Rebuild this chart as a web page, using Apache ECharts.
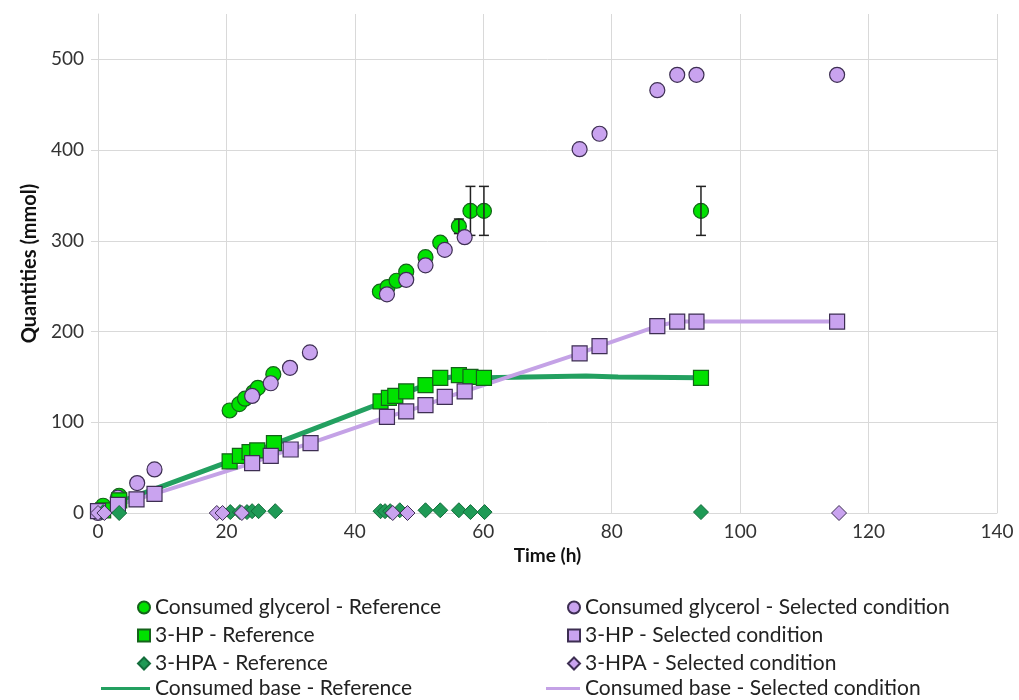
<!DOCTYPE html>
<html>
<head>
<meta charset="utf-8">
<script src="https://cdn.jsdelivr.net/npm/echarts@6/dist/echarts.min.js"></script>
<style>
html,body{margin:0;padding:0;background:#fff;}
#chart{width:1019px;height:700px;}
</style>
</head>
<body>
<div id="chart"></div>
<script>
// ---- Data (time h, quantity mmol) ----
var xTicks = [0, 20, 40, 60, 80, 100, 120, 140];
var yTicks = [0, 100, 200, 300, 400, 500];

var glycerolRef = [[0.8, 8], [3.3, 19], [20.5, 113], [22.0, 120], [22.9, 126], [24.2, 133], [24.9, 138], [27.3, 153],
  [43.9, 244], [45.1, 249], [46.5, 256], [48.0, 266], [51.0, 282], [53.3, 298], [56.2, 316], [58.0, 333], [60.1, 333], [93.9, 333]];
var glycerolRefErr = [[56.2, 316, 8], [58.0, 333, 27], [60.1, 333, 27], [93.9, 333, 27]];
var glycerolSel = [[0, 0], [3.1, 17], [6.1, 33], [8.8, 48], [24.0, 129], [26.9, 143], [29.9, 160], [33.0, 177],
  [45.0, 241], [48.0, 257], [51.0, 273], [54.0, 290], [57.1, 304], [75.0, 401], [78.1, 418], [87.1, 466], [90.2, 483], [93.2, 483], [115.1, 483]];
var hpRef = [[0.8, 3], [3.3, 14], [20.5, 57], [22.1, 63], [23.6, 67], [24.8, 69], [27.4, 77],
  [44.0, 123], [45.3, 127], [46.3, 129], [48.0, 134], [51.0, 141], [53.3, 149], [56.2, 152], [58.0, 150], [60.1, 149], [93.9, 149]];
var hpSel = [[0, 2], [3.1, 9], [6.0, 15], [8.8, 21], [24.0, 55], [26.9, 63], [30.0, 70], [33.1, 77],
  [45.0, 106], [48.0, 112], [51.0, 119], [54.0, 128], [57.1, 134], [75.0, 176], [78.1, 184], [87.1, 206], [90.2, 211], [93.2, 211], [115.1, 211]];
var hpaRef = [[0.8, 1], [3.3, 0], [20.6, 1], [22.1, 1], [23.2, 1], [24.0, 2], [25.0, 2], [27.6, 2],
  [44.0, 2], [44.7, 2], [45.5, 2], [47.0, 3], [51.0, 3], [53.3, 3], [56.2, 3], [58.0, 1], [60.2, 1], [93.9, 1]];
var hpaSel = [[0, 0], [1.0, 0], [18.5, 0], [19.4, 0], [22.4, 0], [45.9, 0], [48.2, 0], [115.4, 0]];
var baseRef = [[0, 0], [3.3, 12], [20.5, 57], [22.1, 62], [24.8, 69], [27.4, 76], [44.0, 121], [46.3, 128], [48.0, 133],
  [51.0, 141], [53.3, 148], [56.2, 151], [60.1, 149], [76.0, 151], [81.0, 150], [93.9, 149]];
var baseSel = [[0, 2], [3.1, 9], [6.0, 15], [8.8, 21], [24.0, 55], [26.9, 63], [30.0, 70], [33.1, 77],
  [45.0, 106], [48.0, 112], [51.0, 119], [54.0, 127], [57.1, 134], [75.0, 176], [78.1, 184], [87.1, 206], [90.2, 211], [93.2, 211], [115.1, 211]];

var names = {
  gRef: 'Consumed glycerol - Reference', gSel: 'Consumed glycerol - Selected condition',
  hRef: '3-HP - Reference', hSel: '3-HP - Selected condition',
  aRef: '3-HPA - Reference', aSel: '3-HPA - Selected condition',
  bRef: 'Consumed base - Reference', bSel: 'Consumed base - Selected condition'
};

var FONT = "Lato, sans-serif";
var C = {
  green: '#00e100', greenB: '#14631a', dgreen: '#1f9a56', dgreenB: '#136d3b',
  lav: '#c9a3ef', lavB: '#3d2e52', lineG: '#23a060', lineL: '#c4a2e6'
};

var chart = echarts.init(document.getElementById('chart'), null, {renderer: 'canvas'});

function legendCfg(left, top, data, w, h) {
  return {
    left: left, top: top, orient: 'vertical', data: data, padding: 0,
    itemWidth: w, itemHeight: h, itemGap: 7,
    textStyle: {fontFamily: FONT, fontSize: 21, color: '#222', lineHeight: 20},
    selectedMode: false
  };
}

var option = {
  animation: false,
  backgroundColor: '#fff',
  grid: {left: 98, right: 22, top: 14, bottom: 187},
  legend: [
    legendCfg(137, 597, [names.gRef, names.hRef, names.aRef], 12, 12),
    legendCfg(101, 678, [{name: names.bRef, icon: 'rect'}], 49, 3),
    legendCfg(567, 597, [names.gSel, names.hSel, names.aSel], 12, 12),
    legendCfg(546, 678, [{name: names.bSel, icon: 'rect'}], 34, 3)
  ],
  xAxis: {
    type: 'value', min: xTicks[0], max: xTicks[xTicks.length - 1], interval: 20,
    name: 'Time (h)', nameLocation: 'middle', nameGap: 28,
    nameTextStyle: {fontFamily: FONT, fontSize: 19, fontWeight: 'bold', color: '#111'},
    axisLine: {show: true, lineStyle: {color: '#d9d9d9', width: 1}},
    axisTick: {show: false},
    axisLabel: {fontFamily: FONT, fontSize: 19, color: '#333', margin: 9},
    splitLine: {show: true, lineStyle: {color: '#d9d9d9', width: 1}}
  },
  yAxis: {
    type: 'value', min: yTicks[0], max: 550, interval: 100,
    name: 'Quantities (mmol)', nameLocation: 'middle', nameGap: 50, nameRotate: 90,
    nameTextStyle: {fontFamily: FONT, fontSize: 20, fontWeight: 'bold', color: '#111'},
    axisLine: {show: true, lineStyle: {color: '#d9d9d9', width: 1}},
    axisTick: {show: true, length: 7, lineStyle: {color: '#d9d9d9'}},
    axisLabel: {fontFamily: FONT, fontSize: 19, color: '#333', margin: 14, showMaxLabel: false},
    splitLine: {show: true, lineStyle: {color: ['#d9d9d9', '#d9d9d9', '#d9d9d9', '#d9d9d9', '#d9d9d9', '#d9d9d9', 'rgba(0,0,0,0)']}}
  },
  series: [
    {name: names.bRef, type: 'line', data: baseRef, symbol: 'none', z: 1,
      lineStyle: {color: C.lineG, width: 5}, itemStyle: {color: C.lineG}},
    {name: names.bSel, type: 'line', data: baseSel, symbol: 'none', z: 1,
      lineStyle: {color: C.lineL, width: 4}, itemStyle: {color: C.lineL}},
    {name: names.gRef, type: 'scatter', data: glycerolRef, symbol: 'circle', symbolSize: 15, z: 2,
      itemStyle: {color: C.green, borderColor: C.greenB, borderWidth: 1.2, opacity: 1}},
    {name: 'err', type: 'custom', data: glycerolRefErr, z: 3, silent: true,
      renderItem: function (params, api) {
        var x = api.value(0), y = api.value(1), e = api.value(2);
        var t = api.coord([x, y + e]), b = api.coord([x, y - e]);
        var cw = 5;
        var st = {stroke: '#222', lineWidth: 1.5};
        return {type: 'group', children: [
          {type: 'line', shape: {x1: t[0], y1: t[1], x2: b[0], y2: b[1]}, style: st},
          {type: 'line', shape: {x1: t[0] - cw, y1: t[1], x2: t[0] + cw, y2: t[1]}, style: st},
          {type: 'line', shape: {x1: b[0] - cw, y1: b[1], x2: b[0] + cw, y2: b[1]}, style: st}
        ]};
      }},
    {name: names.gSel, type: 'scatter', data: glycerolSel, symbol: 'circle', symbolSize: 15, z: 4,
      itemStyle: {color: C.lav, borderColor: C.lavB, borderWidth: 1.2, opacity: 1}},
    {name: names.hRef, type: 'scatter', data: hpRef, symbol: 'rect', symbolSize: 15, z: 5,
      itemStyle: {color: C.green, borderColor: C.greenB, borderWidth: 1.2, opacity: 1}},
    {name: names.hSel, type: 'scatter', data: hpSel, symbol: 'rect', symbolSize: 15, z: 5,
      itemStyle: {color: C.lav, borderColor: C.lavB, borderWidth: 1.2, opacity: 1}},
    {name: names.aRef, type: 'scatter', data: hpaRef, symbol: 'diamond', symbolSize: 15, z: 6,
      itemStyle: {color: C.dgreen, borderColor: C.dgreenB, borderWidth: 1, opacity: 1}},
    {name: names.aSel, type: 'scatter', data: hpaSel, symbol: 'diamond', symbolSize: 15, z: 6,
      itemStyle: {color: C.lav, borderColor: C.lavB, borderWidth: 1, opacity: 1}}
  ]
};
chart.setOption(option);
</script>
</body>
</html>
